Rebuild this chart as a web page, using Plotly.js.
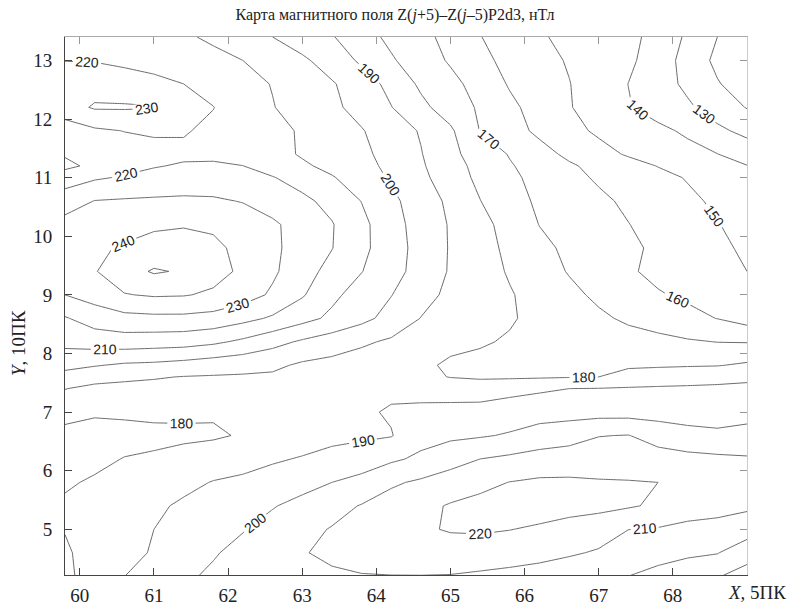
<!DOCTYPE html>
<html>
<head>
<meta charset="utf-8">
<script src="https://cdn.plot.ly/plotly-3.0.1.min.js"></script>
<style>
  html, body { margin: 0; padding: 0; background: #fff; }
  #chart { width: 790px; height: 610px; }
</style>
</head>
<body>
<div id="chart"></div>
<script>
// Grid nodes (X in 5-picket units, Y in 10-picket units)
const xNodes = [59.8, 60.2, 60.6, 61.0, 61.4, 61.8, 62.2, 62.6, 63.0, 63.4, 63.8, 64.2,
                64.6, 65.0, 65.4, 65.8, 66.2, 66.6, 67.0, 67.4, 67.8, 68.2, 68.6, 69.0];
const yNodes = [4.2, 4.6, 5.0, 5.4, 5.8, 6.2, 6.6, 7.0, 7.4, 7.6, 7.8, 8.2, 8.6,
                9.0, 9.4, 9.8, 10.2, 10.6, 11.0, 11.2, 11.4, 11.8, 12.2, 12.6, 13.0, 13.4];

// Field values, nT, one row per Y node
const zY42  = [178, 184, 189.9, 194.5, 198.5, 201.5, 203.5, 205.5, 207.2, 208.5, 209.6, 209.8, 209.8, 209.5, 208.3, 207, 205.5, 204, 202, 200, 197, 193.8, 190.5, 187];
const zY46  = [179, 183, 186.5, 191, 195.1, 199.2, 202.7, 206, 209.4, 212, 213, 214, 215, 216.5, 216, 215, 213.5, 211.2, 209, 204.9, 203.6, 201.8, 200.5, 193];
const zY50  = [180.3, 184, 187.5, 190, 193.1, 196.3, 199.5, 203.3, 207.6, 210.5, 213.3, 216.1, 219, 220.6, 221, 220.2, 218.8, 216.4, 214.6, 210.1, 209.3, 207.9, 207.1, 205.3];
const zY54  = [181.2, 183, 185.5, 188.5, 191.3, 194, 196.8, 199.4, 202.9, 206.9, 210.5, 214, 217.5, 220.8, 222.5, 223.5, 224, 223.5, 222.5, 221, 218.5, 214, 213, 211.5];
const zY58  = [179, 181, 182.5, 184, 187.8, 190.4, 191.6, 193.5, 196.7, 200, 203.2, 208.6, 211.5, 214.5, 217.7, 220.2, 221.5, 221.5, 220.8, 220.5, 220, 215.5, 215, 214];
const zY62  = [175.5, 178, 180.3, 181.1, 182.7, 185.1, 187, 189, 190.6, 192.9, 194.6, 198.4, 201.8, 206.3, 210, 212, 214, 214.8, 215.1, 215.1, 214.2, 213, 212, 211];
const zY66  = [176, 176, 177, 178, 178.5, 178.8, 180.8, 184, 186, 187.5, 188.5, 189.5, 196.7, 198.1, 199.1, 200.9, 204.1, 206.2, 209.7, 210.3, 205.9, 203, 201.8, 203.2];
const zY70  = [184.5, 181.3, 181.5, 181.7, 181.4, 181, 181.8, 183.5, 185, 186.5, 188.5, 191, 192.3, 193.1, 193.9, 195, 196, 196.3, 196.5, 196.4, 196.2, 196, 196, 196.7];
const zY74  = [190.2, 188, 187.6, 187.4, 187.1, 186.5, 186.5, 186.5, 186, 185.5, 185, 188, 186.5, 185.5, 184.7, 187, 188.6, 190, 190.3, 190.8, 191.1, 191.3, 191.5, 191.8];
const zY76  = [196.5, 193.1, 191.7, 190.7, 189.7, 189.3, 189, 188.5, 187, 185.8, 184.5, 183.5, 182, 179.7, 178.8, 178.7, 179, 179.5, 180, 183.5, 185.2, 186.2, 187.2, 188.3];
const zY78  = [202.8, 200.7, 198.6, 197.9, 196.4, 194.5, 193.2, 192, 188.5, 187, 185.5, 184, 181.5, 178.8, 178, 177.8, 178.3, 178.2, 178.3, 178.6, 178.8, 179.2, 179.5, 181.4];
const zY82  = [212.9, 214.5, 215.4, 214.7, 214.1, 211.9, 208.1, 203.2, 198.7, 195.1, 191.5, 188.6, 186, 182, 180.8, 179.2, 177.8, 176.4, 175, 173.6, 172.4, 171, 169.8, 169.5];
const zY86  = [219.2, 224.5, 227, 227.7, 227.7, 226.5, 223, 218.7, 213.3, 208, 202.8, 196.6, 189.8, 186.8, 183.8, 180.8, 177.8, 174.7, 171.6, 168.5, 166, 162.5, 159.8, 156];
const zY90  = [230, 234, 239.5, 241, 240.6, 238.5, 234.5, 228.5, 221, 212.2, 205.8, 200.3, 193.2, 188, 184.4, 180.7, 176.6, 172.3, 168.2, 164.4, 160.7, 158.5, 156, 153.8];
const zY94  = [236.5, 239.4, 246, 251, 249, 243.5, 238.2, 231.6, 224, 216.8, 210.3, 203.6, 196.3, 189.1, 184.1, 179.1, 174.2, 169.4, 165.2, 161, 158, 155.2, 152.5, 150];
const zY98  = [235.5, 238.5, 241, 243.5, 244, 242, 237.5, 231.8, 226.1, 220.3, 212.4, 204.4, 196.6, 189.3, 183.6, 177.9, 172.4, 168.1, 164.9, 161.7, 158.4, 154.9, 151.5, 148.8];
const zY102 = [233.5, 234, 236.5, 238.5, 239.3, 238.5, 236, 231.5, 226.1, 220.6, 212.5, 203.8, 196, 189.2, 183, 176.4, 169.8, 166.6, 163.4, 160.2, 156.9, 153.6, 150.3, 147.5];
const zY106 = [225, 230.3, 231, 231.5, 232, 231.5, 229.5, 225.9, 222.2, 217.1, 209.8, 202.2, 195.1, 188, 180.2, 173.6, 168.5, 165.1, 161.8, 158.4, 155.1, 151.8, 148.5, 146];
const zY110 = [215.5, 218.8, 221, 222.5, 223.2, 223.5, 222.5, 220.5, 216.1, 210.8, 204.9, 198.9, 192.3, 184.9, 177.8, 172, 167.1, 162.7, 158.8, 155.7, 152.7, 149.4, 146, 142.5];
const zY112 = [207.5, 212.5, 216.5, 219.5, 220.8, 221, 220.1, 216, 211.6, 207.3, 203, 197.8, 191.2, 184, 176.9, 170.8, 166, 161.3, 157.2, 153.6, 149.7, 146.5, 143.4, 140.3];
const zY114 = [211, 213.5, 216, 217.5, 218.5, 218.5, 216.5, 213.5, 209, 205.4, 201.9, 197, 190.5, 182.4, 175.6, 169.4, 163.5, 158, 153.2, 149, 146.1, 143.1, 140.2, 135.5];
const zY118 = [214.5, 218.5, 220.2, 221, 220.6, 218.4, 215.4, 212.4, 209.1, 204.9, 200.6, 195.1, 189.2, 181.5, 169.7, 163.8, 158, 152.8, 148.5, 145.4, 142.2, 138.4, 131.9, 127.5];
const zY122 = [226, 231, 231, 230.5, 225, 220.2, 215.1, 210.4, 206.1, 202, 196.7, 190.3, 182.4, 175.3, 168.7, 162.1, 156.2, 150.6, 145.6, 140.6, 136, 131.4, 125.7, 119.5];
const zY126 = [226, 226, 224.5, 222.5, 220, 216.5, 213.1, 209.6, 205.2, 200.9, 194.8, 187.2, 178.3, 172.8, 166.2, 159.1, 154.7, 150.3, 145.1, 139.9, 134.1, 128, 120.7, 115];
const zY130 = [219.8, 219.5, 218, 216.5, 215, 213, 210, 205.8, 201.7, 195.6, 188.4, 181.1, 174.9, 168.9, 162.4, 157.4, 153.2, 149.2, 145.5, 141.8, 135.3, 126.3, 117.8, 112];
const zY134 = [217, 216.5, 216, 214, 211.5, 208.2, 204, 200, 195, 190.7, 184, 177.8, 172.8, 167, 160.3, 155.6, 151, 147.8, 145, 142, 137.5, 128.2, 120, 112];

const zRows = [zY42, zY46, zY50, zY54, zY58, zY62, zY66, zY70, zY74, zY76, zY78, zY82, zY86,
               zY90, zY94, zY98, zY102, zY106, zY110, zY112, zY114, zY118, zY122, zY126, zY130, zY134];

// Contour levels and axis ticks
const levelStart = 120, levelEnd = 250, levelStep = 10;
const xTicks = [60, 61, 62, 63, 64, 65, 66, 67, 68];
const yTicks = [5, 6, 7, 8, 9, 10, 11, 12, 13];

const xRange = [59.8, 69.0];
const yRange = [4.22, 13.4];

const serif = 'Liberation Serif, DejaVu Serif, serif';
const lineGrey = '#5a5a5a';

const field = {
  type: 'contour',
  x: xNodes,
  y: yNodes,
  z: zRows,
  autocontour: false,
  contours: {
    start: levelStart, end: levelEnd, size: levelStep,
    coloring: 'lines',
    showlabels: true,
    labelfont: { family: 'Liberation Sans, Arial, sans-serif', size: 14, color: '#222' }
  },
  colorscale: [[0, lineGrey], [1, lineGrey]],
  showscale: false,
  line: { width: 0.9, smoothing: 0 },
  hoverinfo: 'skip'
};

// empty trace that carries the top / right frame axes
const frame = { type: 'scatter', x: [], y: [], xaxis: 'x2', yaxis: 'y2', hoverinfo: 'skip', showlegend: false };

const layout = {
  width: 790, height: 610,
  margin: { l: 65, r: 43, t: 37, b: 35 },
  paper_bgcolor: '#ffffff', plot_bgcolor: '#ffffff',
  showlegend: false,
  title: {
    text: 'Карта магнитного поля Z(<i>j</i>+5)–Z(<i>j</i>–5)P2d3, нТл',
    x: 0.5, xref: 'container', xanchor: 'center',
    y: 0.977, yref: 'container', yanchor: 'middle',
    font: { family: serif, size: 16, color: '#222' }
  },
  xaxis: {
    range: xRange, tickvals: xTicks, ticks: 'inside', ticklen: 7, tickwidth: 1, tickcolor: '#444',
    showline: true, linecolor: '#444', linewidth: 1, mirror: false,
    showgrid: false, zeroline: false, ticklabelstandoff: 3,
    tickfont: { family: serif, size: 19, color: '#222' }
  },
  yaxis: {
    range: yRange, tickvals: yTicks, ticks: 'inside', ticklen: 7, tickwidth: 1, tickcolor: '#444',
    showline: true, linecolor: '#444', linewidth: 1, mirror: false,
    showgrid: false, zeroline: false, ticklabelstandoff: 8,
    tickfont: { family: serif, size: 19, color: '#222' }
  },
  xaxis2: {
    overlaying: 'x', side: 'top', anchor: 'y2', range: xRange, tickvals: xTicks,
    ticks: 'inside', ticklen: 7, tickcolor: '#999', showline: true, linecolor: '#aaa',
    showticklabels: false, showgrid: false, zeroline: false
  },
  yaxis2: {
    overlaying: 'y', side: 'right', anchor: 'x2', range: yRange, tickvals: yTicks,
    ticks: 'inside', ticklen: 7, tickcolor: '#999', showline: true, linecolor: '#ccc',
    showticklabels: false, showgrid: false, zeroline: false
  },
  annotations: [
    {
      text: '<i>X</i>, 5ПК', xref: 'paper', yref: 'paper', x: 1.06, y: -0.033,
      xanchor: 'right', yanchor: 'middle', showarrow: false,
      font: { family: serif, size: 19, color: '#222' }
    },
    {
      text: '<i>Y</i>, 10ПК', xref: 'paper', yref: 'paper', x: -0.069, y: 0.431,
      xanchor: 'center', yanchor: 'middle', textangle: -90, showarrow: false,
      font: { family: serif, size: 19, color: '#222' }
    }
  ]
};

Plotly.newPlot('chart', [field, frame], layout, { staticPlot: true, displayModeBar: false });
</script>
</body>
</html>
